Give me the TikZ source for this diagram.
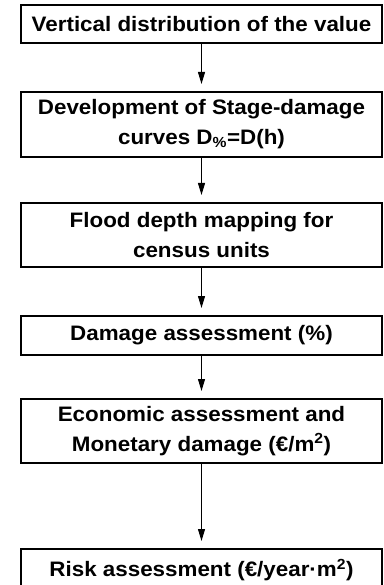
\documentclass[tikz,border=0pt]{standalone}
\usepackage{fontspec}
\setmainfont{Liberation Sans}[FakeStretch=1.07]
\usetikzlibrary{arrows.meta}
\begin{document}
\begin{tikzpicture}[x=1bp,y=-1bp,
  box/.style={draw, line width=2bp, minimum width=361bp, inner sep=0pt, align=center,
    font=\fontsize{21}{30}\selectfont\bfseries},
  conn/.style={line width=1bp, -{Triangle[width=7bp,length=12bp]}, shorten >=7bp}]
\useasboundingbox (0,0) rectangle (383,585);
\clip (0,0) rectangle (383,585);
\node[box, minimum height=38bp] (b1) at (201.5,24) {Vertical distribution of the value};
\node[box, minimum height=65bp] (b2) at (201.5,124.5) {Development of Stage-damage\\curves D\textsubscript{\%}=D(h)};
\node[box, minimum height=64bp] (b3) at (201.5,235) {Flood depth mapping for\\census units};
\node[box, minimum height=39bp] (b4) at (201.5,335.5) {Damage assessment (\%)};
\node[box, minimum height=64bp] (b5) at (201.5,431) {Economic assessment and\\Monetary damage (€/m\textsuperscript{2})};
\node[box, minimum height=42bp] (b6) at (201.5,570) {Risk assessment (€/year·m\textsuperscript{2})};
\draw[conn] (b1) -- (b2);
\draw[conn] (b2) -- (b3);
\draw[conn] (b3) -- (b4);
\draw[conn] (b4) -- (b5);
\draw[conn] (b5) -- (b6);
\end{tikzpicture}
\end{document}
